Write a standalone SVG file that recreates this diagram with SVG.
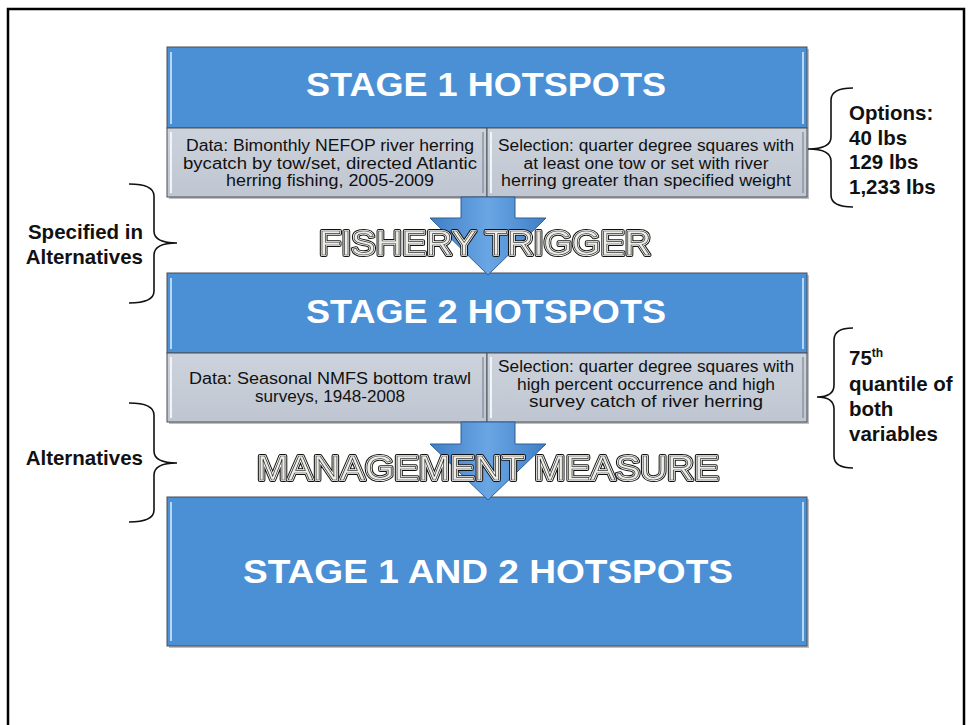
<svg xmlns="http://www.w3.org/2000/svg" width="969" height="725" viewBox="0 0 969 725">
<defs>
<linearGradient id="arrowGrad" x1="0" y1="0" x2="1" y2="0">
<stop offset="0" stop-color="#3f7fc6"/>
<stop offset="0.5" stop-color="#6aa6e4"/>
<stop offset="1" stop-color="#3f7fc6"/>
</linearGradient>
<linearGradient id="grayGrad" x1="0" y1="0" x2="0" y2="1">
<stop offset="0" stop-color="#cdd3dc"/>
<stop offset="1" stop-color="#bfc6d1"/>
</linearGradient>
<filter id="flat" x="-5%" y="-20%" width="110%" height="140%">
<feColorMatrix type="matrix" values="1 0 0 0 0 0 1 0 0 0 0 0 1 0 0 0 0 0 1 0"/>
</filter>
</defs>
<style>
.frame{fill:none;stroke:#000;stroke-width:2.5}
.shadow{fill:#000;opacity:0.25}
.blue{fill:#4b8fd5;stroke:#4a4f57;stroke-width:1}
.gray{fill:url(#grayGrad);stroke:#4a4f57;stroke-width:1}
.hlb{stroke:#b5d8f8;stroke-width:2;fill:none}
.hlg{stroke:#f2f4f8;stroke-width:2;fill:none}
.dk{stroke:#8d95a3;stroke-width:1.5;fill:none}
.title{font-family:"Liberation Sans",Arial,sans-serif;font-weight:bold;font-size:34px;fill:#fff;text-anchor:middle}
.small{font-family:"Liberation Sans",Arial,sans-serif;font-size:16px;fill:#111;text-anchor:middle}
.note{font-family:"Liberation Sans",Arial,sans-serif;font-weight:bold;font-size:20.5px;fill:#111}
.sup{font-size:12px}
.arrow{fill:url(#arrowGrad);stroke:#2f5f94;stroke-width:1}
.brace{fill:none;stroke:#111;stroke-width:1.6}
.outl{filter:url(#flat)}
.o1{font-family:"Liberation Sans",Arial,sans-serif;font-size:35px;text-anchor:middle;fill:#111;stroke:#111;stroke-width:4.2;stroke-linejoin:round}
.o2{font-family:"Liberation Sans",Arial,sans-serif;font-size:35px;text-anchor:middle;fill:#fff;stroke:#fff;stroke-width:2.2;stroke-linejoin:round}
.o3{font-family:"Liberation Sans",Arial,sans-serif;font-size:35px;text-anchor:middle;fill:#efeee6;stroke:#333;stroke-width:0.7}
</style>

<path class="frame" d="M8,740 V9 H964 V740"/>

<g id="stage1">
<rect class="shadow" x="169" y="49" width="640" height="150"/>
<rect class="blue" x="167" y="47" width="640" height="81"/>
<path class="hlb" d="M171,52 V124 M803,52 V124"/>
<rect class="gray" x="167" y="128" width="320" height="69"/>
<rect class="gray" x="487" y="128" width="320" height="69"/>
<path class="hlg" d="M171,132 V193 M491,132 V193"/>
<path class="dk" d="M483,132 V193 M803,132 V193"/>
<text class="title" x="486" y="96" textLength="360" lengthAdjust="spacingAndGlyphs">STAGE 1 HOTSPOTS</text>
<text class="small" x="330" y="151" textLength="288" lengthAdjust="spacingAndGlyphs">Data: Bimonthly NEFOP river herring</text>
<text class="small" x="330" y="168.5" textLength="294" lengthAdjust="spacingAndGlyphs">bycatch by tow/set, directed Atlantic</text>
<text class="small" x="330" y="186" textLength="208" lengthAdjust="spacingAndGlyphs">herring fishing, 2005-2009</text>
<text class="small" x="646" y="151" textLength="296" lengthAdjust="spacingAndGlyphs">Selection: quarter degree squares with</text>
<text class="small" x="646" y="168.5" textLength="245" lengthAdjust="spacingAndGlyphs">at least one tow or set with river</text>
<text class="small" x="646" y="186" textLength="290" lengthAdjust="spacingAndGlyphs">herring greater than specified weight</text>
</g>

<g id="stage2">
<rect class="shadow" x="169" y="275" width="640" height="149"/>
<rect class="blue" x="167" y="273" width="640" height="80"/>
<path class="hlb" d="M171,278 V349 M803,278 V349"/>
<rect class="gray" x="167" y="353" width="320" height="69"/>
<rect class="gray" x="487" y="353" width="320" height="69"/>
<path class="hlg" d="M171,357 V418 M491,357 V418"/>
<path class="dk" d="M483,357 V418 M803,357 V418"/>
<text class="title" x="486" y="323" textLength="360" lengthAdjust="spacingAndGlyphs">STAGE 2 HOTSPOTS</text>
<text class="small" x="330" y="384" textLength="282" lengthAdjust="spacingAndGlyphs">Data: Seasonal NMFS bottom trawl</text>
<text class="small" x="330" y="401.5" textLength="150" lengthAdjust="spacingAndGlyphs">surveys, 1948-2008</text>
<text class="small" x="646" y="372" textLength="296" lengthAdjust="spacingAndGlyphs">Selection: quarter degree squares with</text>
<text class="small" x="646" y="389.5" textLength="258" lengthAdjust="spacingAndGlyphs">high percent occurrence and high</text>
<text class="small" x="646" y="407" textLength="234" lengthAdjust="spacingAndGlyphs">survey catch of river herring</text>
</g>

<g id="stage3">
<rect class="shadow" x="169" y="499" width="640" height="149"/>
<rect class="blue" x="167" y="497" width="640" height="149"/>
<path class="hlb" d="M171,502 V641 M803,502 V641"/>
<text class="title" x="488" y="583" textLength="490" lengthAdjust="spacingAndGlyphs">STAGE 1 AND 2 HOTSPOTS</text>
</g>

<g id="connectors">
<path class="arrow" d="M461,197 H515 V218 H546 L488,275 L430,218 H461 Z"/>
<path class="arrow" d="M461,422 H515 V444 H546 L488,500 L430,444 H461 Z"/>
<path class="brace" d="M129,184 Q154,184 154,196 V231 Q154,243 177,243 Q154,243 154,255 V291 Q154,303 129,303"/>
<path class="brace" d="M129,403 Q154,403 154,415 V451 Q154,463 177,463 Q154,463 154,475 V510 Q154,522 129,522"/>
<path class="brace" d="M853,88 Q831,88 831,100 V137 Q831,149 808,149 Q831,149 831,161 V195 Q831,207 853,207"/>
<path class="brace" d="M853,328 Q834,328 834,340 V385 Q834,397 817,397 Q834,397 834,409 V456 Q834,468 853,468"/>
</g>

<g id="fishery-trigger" class="outl">
<text class="o1" x="485" y="255" textLength="332" lengthAdjust="spacingAndGlyphs">FISHERY TRIGGER</text>
<text class="o2" x="485" y="255" textLength="332" lengthAdjust="spacingAndGlyphs">FISHERY TRIGGER</text>
<text class="o3" x="485" y="255" textLength="332" lengthAdjust="spacingAndGlyphs">FISHERY TRIGGER</text>
</g>

<g id="management-measure" class="outl">
<text class="o1" x="488" y="480" textLength="462" lengthAdjust="spacingAndGlyphs">MANAGEMENT MEASURE</text>
<text class="o2" x="488" y="480" textLength="462" lengthAdjust="spacingAndGlyphs">MANAGEMENT MEASURE</text>
<text class="o3" x="488" y="480" textLength="462" lengthAdjust="spacingAndGlyphs">MANAGEMENT MEASURE</text>
</g>

<g id="note-specified">
<text class="note" x="143" y="239" text-anchor="end">Specified in</text>
<text class="note" x="143" y="264" text-anchor="end">Alternatives</text>
</g>

<g id="note-alternatives">
<text class="note" x="143" y="465" text-anchor="end">Alternatives</text>
</g>

<g id="note-options">
<text class="note" x="849" y="120">Options:</text>
<text class="note" x="849" y="145">40 lbs</text>
<text class="note" x="849" y="169">129 lbs</text>
<text class="note" x="849" y="194">1,233 lbs</text>
</g>

<g id="note-quantile">
<text class="note" x="849" y="365">75<tspan class="sup" dy="-8">th</tspan></text>
<text class="note" x="849" y="391">quantile of</text>
<text class="note" x="849" y="416">both</text>
<text class="note" x="849" y="441">variables</text>
</g>
</svg>
